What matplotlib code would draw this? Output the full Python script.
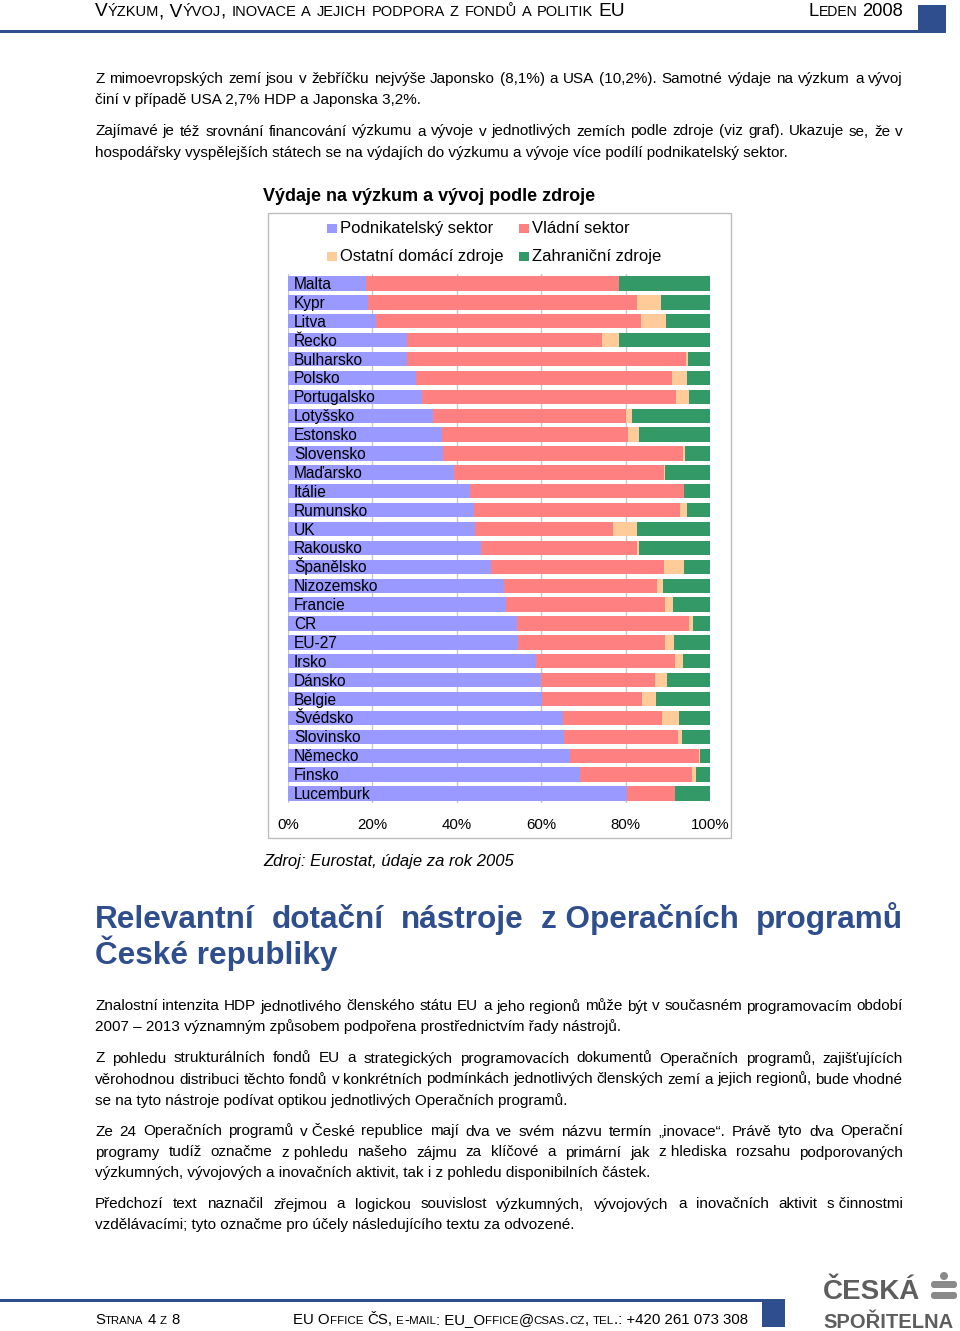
import matplotlib
matplotlib.use("Agg")
import matplotlib.pyplot as plt
from matplotlib import font_manager
from matplotlib.patches import Rectangle, FancyBboxPatch, Circle

# ---------------- data ----------------
countries = ["Malta", "Kypr", "Litva", "Řecko", "Bulharsko", "Polsko", "Portugalsko",
             "Lotyšsko", "Estonsko", "Slovensko", "Maďarsko", "Itálie", "Rumunsko", "UK",
             "Rakousko", "Španělsko", "Nizozemsko", "Francie", "CR", "EU-27", "Irsko",
             "Dánsko", "Belgie", "Švédsko", "Slovinsko", "Německo", "Finsko", "Lucemburk"]
business = [18.6, 19.0, 20.8, 28.1, 28.2, 30.3, 31.7, 34.4, 36.5, 36.7, 39.4, 43.1, 44.0, 44.3,
            45.8, 48.1, 51.1, 51.7, 54.2, 54.5, 58.8, 59.9, 60.3, 65.1, 65.3, 66.8, 69.3, 80.4]
government = [59.9, 63.6, 62.8, 46.4, 66.0, 60.8, 60.2, 45.8, 44.1, 57.0, 49.7, 50.7, 49.0, 32.8,
              37.0, 41.1, 36.4, 37.6, 40.9, 34.8, 32.9, 27.1, 23.6, 23.5, 27.2, 30.7, 26.4, 11.3]
other_domestic = [0.0, 5.9, 6.0, 4.0, 0.5, 3.4, 3.2, 1.4, 2.5, 0.4, 0.3, 0.0, 1.6, 5.7,
                  0.4, 4.6, 1.3, 2.0, 0.9, 2.2, 1.8, 2.7, 3.3, 4.1, 0.8, 0.1, 1.1, 0.0]
foreign = [21.5, 11.5, 10.4, 21.5, 5.3, 5.5, 4.9, 18.4, 16.9, 5.9, 10.6, 6.2, 5.4, 17.2,
           16.8, 6.2, 11.2, 8.7, 4.0, 8.5, 6.5, 10.3, 12.8, 7.3, 6.7, 2.4, 3.2, 8.3]
series_names = ["Podnikatelský sektor", "Vládní sektor", "Ostatní domácí zdroje", "Zahraniční zdroje"]
series_colors = ["#9999FF", "#FF8080", "#FFCC99", "#339966"]
xtick_values = [0, 20, 40, 60, 80, 100]
xtick_labels = ["0%", "20%", "40%", "60%", "80%", "100%"]

chart_title = "Výdaje na výzkum a vývoj podle zdroje"
source_text = "Zdroj: Eurostat, údaje za rok 2005"
header_left = "Výzkum, Vývoj, inovace a jejich podpora z fondů a politik EU"
header_right = "Leden 2008"
footer_left = "Strana 4 z 8"
footer_mid = "EU Office ČS, e-mail: EU_Office@csas.cz, tel.: +420 261 073 308"

NB = "\u00a0"
para_top = [
    ("Z mimoevropských zemí jsou v žebříčku nejvýše Japonsko (8,1%) a USA (10,2%). Samotné výdaje na výzkum a vývoj", True),
    ("činí v případě USA 2,7% HDP a Japonska 3,2%.", False),
    ("Zajímavé je též srovnání financování výzkumu a vývoje v jednotlivých zemích podle zdroje (viz graf). Ukazuje se, že v", True),
    ("hospodářsky vyspělejších státech se na výdajích do výzkumu a vývoje více podílí podnikatelský sektor.", False),
]
heading_lines = [("Relevantní dotační nástroje z" + NB + "Operačních programů", True),
                 ("České republiky", False)]
para_bottom = [
    ("Znalostní intenzita HDP jednotlivého členského státu EU a jeho regionů může být v současném programovacím období", True),
    ("2007 – 2013 významným způsobem podpořena prostřednictvím řady nástrojů.", False),
    ("Z pohledu strukturálních fondů EU a strategických programovacích dokumentů Operačních programů, zajišťujících", True),
    ("věrohodnou distribuci těchto fondů v konkrétních podmínkách jednotlivých členských zemí a jejich regionů, bude vhodné", True),
    ("se na tyto nástroje podívat optikou jednotlivých Operačních programů.", False),
    ("Ze 24 Operačních programů v" + NB + "České republice mají dva ve svém názvu termín „inovace“. Právě tyto dva Operační", True),
    ("programy tudíž označme z" + NB + "pohledu našeho zájmu za klíčové a primární jak z" + NB + "hlediska rozsahu podporovaných", True),
    ("výzkumných, vývojových a inovačních aktivit, tak i z" + NB + "pohledu disponibilních částek.", False),
    ("Předchozí text naznačil zřejmou a logickou souvislost výzkumných, vývojových a inovačních aktivit s" + NB + "činnostmi", True),
    ("vzdělávacími; tyto označme pro účely následujícího textu za odvozené.", False),
]

# ---------------- setup ----------------
FAM = ["Liberation Sans", "DejaVu Sans"]
names = {f.name for f in font_manager.fontManager.ttflist}
NARROW = ["Liberation Sans Narrow", "Liberation Sans", "DejaVu Sans"] if "Liberation Sans Narrow" in names else FAM
plt.rcParams["font.family"] = FAM

W, H = 960, 1331
fig = plt.figure(figsize=(W / 100, H / 100), dpi=100)
fig.patch.set_facecolor("white")
axp = fig.add_axes([0, 0, 1, 1])
axp.set_xlim(0, W)
axp.set_ylim(H, 0)
axp.axis("off")
renderer = fig.canvas.get_renderer()

BLUE = "#2F4E8E"
TXT = "#000000"


def text_w(s, **kw):
    t = axp.text(0, 0, s, **kw)
    w = t.get_window_extent(renderer).width
    t.remove()
    return w


def adv(s, **kw):
    return text_w("|" + s + "|", **kw) - text_w("||", **kw)


def put_line(x0, x1, y, line, justify, **kw):
    if not justify:
        axp.text(x0, y, line, ha="left", va="baseline", **kw)
        return
    words = line.split(" ")
    widths = [text_w(w, **kw) for w in words]
    gap = (x1 - x0 - sum(widths)) / (len(words) - 1)
    x = x0
    for w, wd in zip(words, widths):
        axp.text(x, y, w, ha="left", va="baseline", **kw)
        x += wd + gap


def smallcaps(x, y, s, big, small, target_w=None, ha="left", color=TXT, family=NARROW):
    runs = []
    for ch in s:
        sm = ch.islower()
        c = ch.upper() if sm else ch
        if runs and runs[-1][1] == sm:
            runs[-1][0] += c
        else:
            runs.append([c, sm])

    def total(scale):
        return sum(adv(r, fontsize=(small if sm else big) * scale, family=family) for r, sm in runs)

    scale = 1.0
    if target_w is not None:
        scale = target_w / total(1.0)
    tot = total(scale)
    cx = x - tot if ha == "right" else x
    for r, sm in runs:
        fs = (small if sm else big) * scale
        lead = len(r) - len(r.lstrip())
        off = adv(r[:lead], fontsize=fs, family=family) if lead else 0
        if r.strip():
            axp.text(cx + off, y, r.strip(), fontsize=fs, family=family, color=color,
                     ha="left", va="baseline")
        cx += adv(r, fontsize=fs, family=family)


# ---------------- header ----------------
smallcaps(95, 16.5, header_left, 11, 8.4, target_w=528)
smallcaps(903, 16.5, header_right, 11, 8.4, target_w=95, ha="right")
axp.add_patch(Rectangle((0, 30), 918, 3, color=BLUE, lw=0))
axp.add_patch(Rectangle((918, 5), 28, 28, color=BLUE, lw=0))

# ---------------- top paragraphs ----------------
body = dict(fontsize=10.95, color=TXT)
for (line, j), y in zip(para_top, [82.7, 103.7, 135.5, 156.5]):
    put_line(95, 903, y, line, j, **body)

# ---------------- chart ----------------
axp.text(263, 201, chart_title, fontsize=13, fontweight="bold", ha="left", va="baseline")
axp.add_patch(Rectangle((268, 213), 463, 625, fill=False, edgecolor="#BDBDBD", lw=1))

leg_pos = [(327, 233.3), (519, 233.3), (327, 261), (519, 261)]
for name, col, (lx, ly) in zip(series_names, series_colors, leg_pos):
    axp.add_patch(Rectangle((lx, ly - 9.5), 10, 9.5, color=col, lw=0))
    axp.text(lx + 13, ly, name, fontsize=12, ha="left", va="baseline")

n = len(countries)
pitch = 18.89
top_px = 283.5 - pitch / 2
h_px = pitch * n
ax = fig.add_axes([288 / W, 1 - (top_px + h_px) / H, 422 / W, h_px / H])
ax.set_facecolor("none")
ypos = list(range(n))
left = [0.0] * n
for vals, col in zip([business, government, other_domestic, foreign], series_colors):
    ax.barh(ypos, vals, left=left, height=0.76, color=col, linewidth=0, zorder=2)
    left = [a + b for a, b in zip(left, vals)]
for i, c in enumerate(countries):
    ax.text(1.4, i + 0.29, c, fontsize=11.2, ha="left", va="baseline", zorder=3)
ax.set_xlim(0, 100)
ax.set_ylim(n - 0.5, -0.5)
ax.set_yticks([])
ax.set_xticks(xtick_values)
ax.set_xticklabels(xtick_labels, fontsize=10.8)
ax.tick_params(axis="x", length=0, pad=11)
ax.xaxis.grid(True, color="#C8C8C8", lw=1, zorder=0)
ax.set_axisbelow(True)
for s in ax.spines.values():
    s.set_visible(False)

axp.text(263, 866, source_text, fontsize=12, fontstyle="italic", ha="left", va="baseline")

# ---------------- heading ----------------
head = dict(fontsize=22.7, fontweight="bold", color=BLUE)
for (line, j), y in zip(heading_lines, [928, 964]):
    put_line(95, 903, y, line, j, **head)

# ---------------- bottom paragraphs ----------------
ys = [1010.5, 1031.5, 1062.5, 1083.5, 1104.5, 1135.5, 1156.5, 1177.5, 1208.5, 1229.5]
for (line, j), y in zip(para_bottom, ys):
    put_line(95, 903, y, line, j, **body)

# ---------------- footer ----------------
axp.add_patch(Rectangle((0, 1299), 762, 3, color=BLUE, lw=0))
axp.add_patch(Rectangle((762, 1299), 23, 28, color=BLUE, lw=0))
smallcaps(95, 1324, footer_left, 11, 8.4, target_w=84)
smallcaps(293, 1324, footer_mid, 11, 8.4, target_w=452)

# logo
GRAY = "#5E5E5E"
axp.text(823, 1299, "ČESKÁ", fontsize=20, fontweight="bold", color=GRAY, ha="left", va="baseline")
axp.text(823, 1328, "SPOŘITELNA", fontsize=14.5, fontweight="bold", color=GRAY, ha="left", va="baseline")
axp.add_patch(Circle((944, 1276), 4, color="#8A8A8A", lw=0))
axp.add_patch(FancyBboxPatch((931, 1281), 26, 7, boxstyle="round,pad=0,rounding_size=3", color="#8A8A8A", lw=0))
axp.add_patch(FancyBboxPatch((931, 1292), 26, 7, boxstyle="round,pad=0,rounding_size=3", color="#8A8A8A", lw=0))

fig.savefig("out.png", dpi=100, facecolor="white")
